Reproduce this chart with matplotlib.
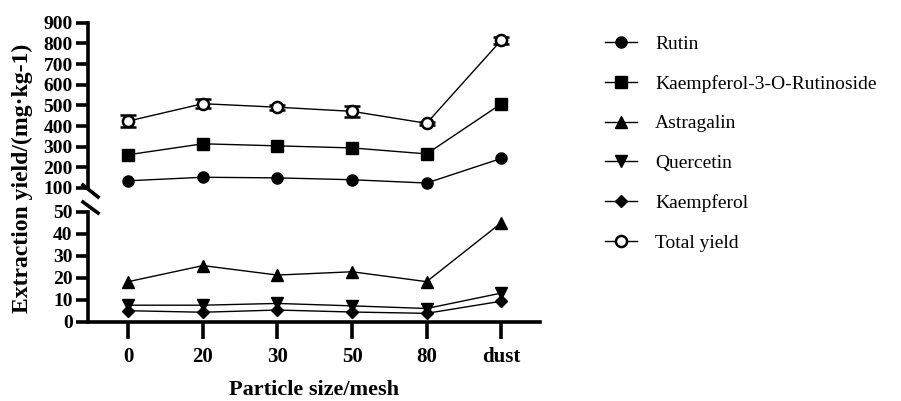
import matplotlib.pyplot as plt
from matplotlib.lines import Line2D
import numpy as np

plt.rcParams['font.family'] = ['Liberation Serif', 'DejaVu Serif']

sizes = ['0', '20', '30', '50', '80', 'dust']

rutin = [135, 152, 149, 140, 124, 243]
k3r = [261, 314, 304, 294, 265, 507]
astragalin = [18.2, 25.5, 21.2, 22.7, 18.2, 45.0]
quercetin = [7.5, 7.5, 8.3, 7.2, 6.0, 13.0]
kaempferol = [5.0, 4.3, 5.3, 4.4, 3.8, 9.3]
total = [424, 508, 491, 471, 413, 815]
total_err = [28, 22, 12, 26, 8, 18]

W, H = 901, 401
fig = plt.figure(figsize=(W / 100, H / 100), dpi=100)


def px_axes(x0, y_top, x1, y_bot):
    return fig.add_axes([x0 / W, 1 - y_bot / H, (x1 - x0) / W, (y_bot - y_top) / H])


ax_top = px_axes(88, 22.7, 540, 188)
ax_bot = px_axes(88, 211.7, 540, 321.7)

x = np.arange(len(sizes))
line_kw = dict(color='black', lw=1.0, ms=8, clip_on=False)

ax_top.plot(x, rutin, marker='o', **line_kw)
ax_top.plot(x, k3r, marker='s', **line_kw)
ax_top.errorbar(x, total, yerr=total_err, marker='o', mfc='white', mec='black',
                mew=1.8, capsize=6, capthick=1.5, elinewidth=1.5, ecolor='black',
                **line_kw)
ax_bot.plot(x, astragalin, marker='^', **line_kw)
ax_bot.plot(x, quercetin, marker='v', **line_kw)
ax_bot.plot(x, kaempferol, marker='D', **dict(line_kw, ms=6))

for ax in (ax_top, ax_bot):
    ax.set_xlim(-0.54, 5.52)
    for s in ('top', 'right'):
        ax.spines[s].set_visible(False)
    ax.spines['left'].set_linewidth(2.6)
    ax.tick_params(axis='y', direction='out', length=9, width=2.6, labelsize=14, pad=2)

ax_top.set_ylim(100, 900)
ax_top.set_yticks(np.arange(100, 901, 100))
ax_top.spines['bottom'].set_visible(False)
ax_top.tick_params(axis='x', bottom=False, labelbottom=False)

ax_bot.set_ylim(0, 50)
ax_bot.set_yticks(np.arange(0, 51, 10))
ax_bot.spines['bottom'].set_linewidth(2.6)
ax_bot.set_xticks(x)
ax_bot.set_xticklabels(sizes, fontsize=15, fontweight='bold')
ax_bot.tick_params(axis='x', direction='out', length=12, width=2.6, pad=6)
for lab in ax_top.get_yticklabels() + ax_bot.get_yticklabels():
    lab.set_fontweight('bold')

# break marks on the y axis
fig.add_artist(Line2D([83 / W, 98 / W], [1 - 185 / H, 1 - 197 / H], color='black', lw=2.6))
fig.add_artist(Line2D([83 / W, 98 / W], [1 - 202 / H, 1 - 213 / H], color='black', lw=2.6))

fig.text(314 / W, 1 - 390 / H, 'Particle size/mesh', ha='center', va='center',
         fontsize=16, fontweight='bold')
fig.text(22 / W, 1 - 178 / H, 'Extraction yield/(mg·kg-1)', rotation=90, ha='center',
         va='center', fontsize=17, fontweight='bold')

legend_styles = [('o', 8), ('s', 8), ('^', 8), ('v', 8), ('D', 6)]
handles = [Line2D([], [], color='black', lw=1.0, marker=m, ms=s) for m, s in legend_styles]
handles.append(Line2D([], [], color='black', lw=1.0, marker='o', ms=8, mfc='white', mew=1.8))
labels = ['Rutin', 'Kaempferol-3-O-Rutinoside', 'Astragalin', 'Quercetin', 'Kaempferol',
          'Total yield']
fig.legend(handles, labels, loc='upper left', bbox_to_anchor=(605 / W, 1 - 35 / H),
           frameon=False, fontsize=14, handlelength=1.65, handletextpad=0.93,
           labelspacing=1.14, borderaxespad=0, borderpad=0)

fig.savefig('out.png', dpi=100)
